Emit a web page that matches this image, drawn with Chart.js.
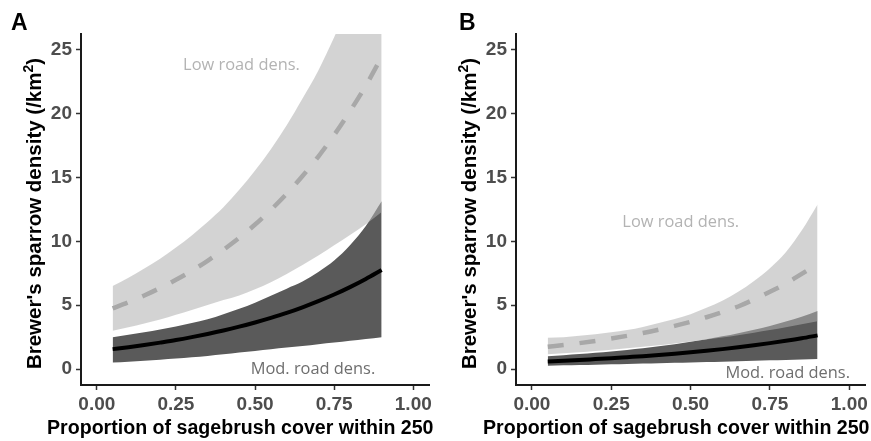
<!DOCTYPE html>
<html>
<head>
<meta charset="utf-8">
<script src="https://cdn.jsdelivr.net/npm/chart.js@4.4.0/dist/chart.umd.min.js"></script>
<style>
  body { margin: 0; background: #fff; }
  .panel { position: absolute; top: 0; }
</style>
</head>
<body>
<canvas id="panelA" class="panel" width="435" height="441" style="left:0"></canvas>
<canvas id="panelB" class="panel" width="436" height="441" style="left:435px"></canvas>
<script>
// sagebrush cover proportion (x) and tick marks
const xs = [0.05, 0.10, 0.15, 0.20, 0.25, 0.30, 0.35, 0.40, 0.45, 0.50, 0.55, 0.60, 0.65, 0.70, 0.75, 0.80, 0.85, 0.90];
const xTicks = [0, 0.25, 0.5, 0.75, 1];
const yTicks = [0, 5, 10, 15, 20, 25];

// Panel A
const lowMeanA  = [4.75, 5.23, 5.76, 6.35, 6.99, 7.70, 8.48, 9.34, 10.28, 11.32, 12.47, 13.73, 15.12, 16.65, 18.34, 20.2, 22.2, 24.45];
const lowUpperA = [6.5, 7.15, 7.87, 8.65, 9.52, 10.47, 11.52, 12.67, 14.04, 15.55, 17.23, 19.1, 21.2, 23.4, 26.0, 28.8, 31.9, 35.3];
const lowLowerA = [3.0, 3.27, 3.56, 3.88, 4.25, 4.62, 5.02, 5.4, 5.76, 6.25, 6.8, 7.45, 8.15, 8.9, 9.7, 10.5, 11.35, 12.3];
const modMeanA  = [1.56, 1.71, 1.88, 2.07, 2.27, 2.50, 2.75, 3.02, 3.32, 3.65, 4.01, 4.40, 4.84, 5.32, 5.84, 6.42, 7.06, 7.76];
const modUpperA = [2.5, 2.68, 2.88, 3.1, 3.33, 3.6, 3.9, 4.3, 4.72, 5.2, 5.75, 6.3, 6.85, 7.6, 8.5, 9.7, 11.2, 13.15];
const modLowerA = [0.52, 0.58, 0.65, 0.73, 0.82, 0.92, 1.03, 1.15, 1.29, 1.42, 1.55, 1.68, 1.81, 1.95, 2.08, 2.22, 2.36, 2.5];

// Panel B
const lowMeanB  = [1.74, 1.88, 2.03, 2.2, 2.39, 2.6, 2.83, 3.09, 3.38, 3.7, 4.06, 4.46, 4.9, 5.45, 6.05, 6.7, 7.45, 8.25];
const lowUpperB = [2.45, 2.5, 2.6, 2.72, 2.88, 3.05, 3.3, 3.6, 3.92, 4.3, 4.8, 5.35, 6.05, 6.9, 7.9, 9.15, 10.85, 12.9];
const lowLowerB = [1.15, 1.23, 1.32, 1.42, 1.52, 1.63, 1.75, 1.87, 2.01, 2.15, 2.31, 2.47, 2.65, 2.84, 3.05, 3.27, 3.5, 3.75];
const modMeanB  = [0.6, 0.65, 0.71, 0.78, 0.85, 0.93, 1.01, 1.1, 1.2, 1.31, 1.43, 1.56, 1.7, 1.86, 2.03, 2.21, 2.41, 2.64];
const modUpperB = [1.0, 1.08, 1.17, 1.27, 1.38, 1.5, 1.63, 1.78, 1.95, 2.13, 2.34, 2.56, 2.81, 3.08, 3.38, 3.72, 4.1, 4.55];
const modLowerB = [0.26, 0.29, 0.31, 0.34, 0.37, 0.4, 0.43, 0.46, 0.49, 0.52, 0.55, 0.58, 0.61, 0.65, 0.68, 0.71, 0.75, 0.78];

const sans = "'Liberation Sans', Arial, sans-serif";
const pts = arr => arr.map((v, i) => ({ x: xs[i], y: v }));

// labels, titles and the in-plot notes
const textPlugin = {
  id: 'texts',
  afterDraw(chart) {
    const { ctx, chartArea: a } = chart;
    const o = chart.options.plugins.texts;
    ctx.save();
    ctx.fillStyle = '#000';
    ctx.font = 'bold 23px ' + sans;
    ctx.textBaseline = 'alphabetic';
    ctx.textAlign = 'left';
    ctx.fillText(o.letter, o.letterX, 30);

    ctx.font = 'bold 19.6px ' + sans;
    ctx.fillText('Proportion of sagebrush cover within 250', o.titleX, 434);

    // y title, with a raised small "2"
    ctx.save();
    ctx.translate(41, (a.top + a.bottom) / 2 + 4);
    ctx.rotate(-Math.PI / 2);
    const big = 'bold 20.5px ' + sans, small = 'bold 14px ' + sans;
    const p1 = "Brewer's sparrow density (/km", p2 = '2', p3 = ')';
    ctx.font = big;
    const w1 = ctx.measureText(p1).width, w3 = ctx.measureText(p3).width;
    ctx.font = small;
    const w2 = ctx.measureText(p2).width;
    let x0 = -(w1 + w2 + w3) / 2;
    ctx.font = big;
    ctx.fillText(p1, x0, 0);
    ctx.font = small;
    ctx.fillText(p2, x0 + w1, -8);
    ctx.font = big;
    ctx.fillText(p3, x0 + w1 + w2, 0);
    ctx.restore();

    ctx.font = '16.4px "Open Sans", sans-serif';
    ctx.textAlign = 'center';
    ctx.textBaseline = 'middle';
    o.notes.forEach(n => {
      ctx.fillStyle = n.color;
      ctx.fillText(n.text, chart.scales.x.getPixelForValue(n.x), chart.scales.y.getPixelForValue(n.y));
    });
    ctx.restore();
  }
};

function makePanel(id, letter, letterX, titleX, lowMean, lowUpper, lowLower, modMean, modUpper, modLower, notes) {
  const tickFont = { family: sans, size: 19, weight: 'bold' };
  new Chart(document.getElementById(id), {
    type: 'line',
    data: {
      datasets: [
        { data: pts(lowMean), borderColor: '#a8a8a8', borderWidth: 4.5, borderDash: [16, 16], fill: false },
        { data: pts(modMean), borderColor: '#000', borderWidth: 4, fill: false },
        { data: pts(lowUpper), borderWidth: 0, borderColor: 'rgba(0,0,0,0)', fill: '+1', backgroundColor: 'rgba(176,176,176,0.56)' },
        { data: pts(lowLower), borderWidth: 0, borderColor: 'rgba(0,0,0,0)', fill: false },
        { data: pts(modUpper), borderWidth: 0, borderColor: 'rgba(0,0,0,0)', fill: '+1', backgroundColor: '#5a5a5a' },
        { data: pts(modLower), borderWidth: 0, borderColor: 'rgba(0,0,0,0)', fill: false }
      ]
    },
    options: {
      responsive: false,
      animation: false,
      devicePixelRatio: 1,
      layout: { padding: { left: 0, right: 5, top: 34, bottom: 0 } },
      elements: { point: { radius: 0 }, line: { cubicInterpolationMode: 'monotone' } },
      plugins: {
        legend: { display: false },
        tooltip: { enabled: false },
        texts: { letter, letterX, titleX, notes }
      },
      scales: {
        x: {
          type: 'linear', min: -0.05, max: 1.05,
          afterBuildTicks: s => { s.ticks = xTicks.map(v => ({ value: v })); },
          afterFit: s => { s.height = 56; },
          ticks: { callback: v => v.toFixed(2), font: tickFont, color: '#4d4d4d', padding: 3, maxRotation: 0, autoSkip: false },
          grid: { display: true, drawOnChartArea: false, drawTicks: true, tickLength: 5, tickColor: '#333', tickWidth: 1.5 },
          border: { display: true, color: '#1a1a1a', width: 2 }
        },
        y: {
          type: 'linear', min: -1.25, max: 26.25,
          afterBuildTicks: s => { s.ticks = yTicks.map(v => ({ value: v })); },
          afterFit: s => { s.width = 81; },
          ticks: { font: tickFont, color: '#4d4d4d', padding: 4 },
          grid: { display: true, drawOnChartArea: false, drawTicks: true, tickLength: 5, tickColor: '#333', tickWidth: 1.5 },
          border: { display: true, color: '#1a1a1a', width: 2 }
        }
      }
    },
    plugins: [textPlugin]
  });
}

makePanel('panelA', 'A', 11, 47, lowMeanA, lowUpperA, lowLowerA, modMeanA, modUpperA, modLowerA, [
  { text: 'Low road dens.', x: 0.457, y: 23.8, color: '#b3b3b3' },
  { text: 'Mod. road dens.', x: 0.683, y: 0.0, color: '#6e6e6e' }
]);
makePanel('panelB', 'B', 24, 48, lowMeanB, lowUpperB, lowLowerB, modMeanB, modUpperB, modLowerB, [
  { text: 'Low road dens.', x: 0.469, y: 11.46, color: '#b3b3b3' },
  { text: 'Mod. road dens.', x: 0.806, y: -0.3, color: '#6e6e6e' }
]);
</script>
</body>
</html>
